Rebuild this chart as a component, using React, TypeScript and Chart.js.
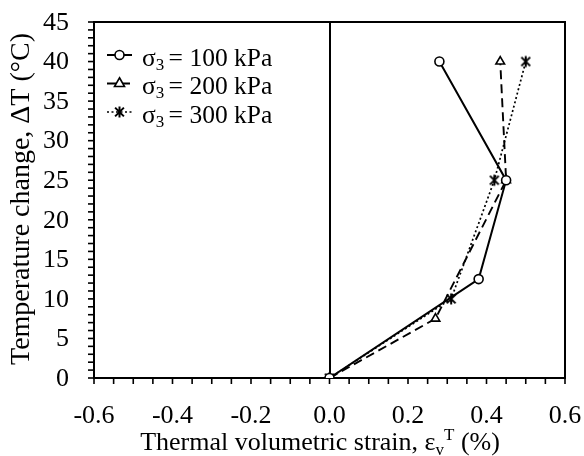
import React, { useEffect, useRef } from 'react';
import { Chart, registerables } from 'chart.js';

Chart.register(...registerables);

// ---- data ----
const strain100 = [0, 0.38, 0.45, 0.28];
const temp100 = [0, 12.5, 25, 40];
const strain200 = [0, 0.27, 0.45, 0.435];
const temp200 = [0, 7.5, 25, 40];
const strain300 = [0, 0.31, 0.42, 0.5];
const temp300 = [0, 10, 25, 40];

const pressures = ['100 kPa', '200 kPa', '300 kPa'];
const xTickValues = [-0.6, -0.4, -0.2, 0, 0.2, 0.4, 0.6];
const xTickLabels = ['-0.6', '-0.4', '-0.2', '0.0', '0.2', '0.4', '0.6'];
const yTickValues = [0, 5, 10, 15, 20, 25, 30, 35, 40, 45];
const yTickLabels = ['0', '5', '10', '15', '20', '25', '30', '35', '40', '45'];
const xMinorStep = 0.05;
const yMinorStep = 1;

const yTitle = 'Temperature change, ΔT (°C)';
const xTitleMain = 'Thermal volumetric strain, ε';
const xTitleSub = 'v';
const xTitleSup = 'T';
const xTitleEnd = ' (%)';

const FONT = "'Liberation Serif', 'Times New Roman', serif";
const TICK_FS = 26;
const XTITLE_FS = 26;
const YTITLE_FS = 28;
const LEG_FS = 25.5;

const toPts = (xs: number[], ys: number[]) => xs.map((v, i) => ({ x: v, y: ys[i] }));

function drawStar(ctx: CanvasRenderingContext2D, x: number, y: number, r: number) {
  const d = r * 0.8;
  ctx.beginPath();
  ctx.moveTo(x - d, y - d);
  ctx.lineTo(x + d, y + d);
  ctx.moveTo(x + d, y - d);
  ctx.lineTo(x - d, y + d);
  ctx.moveTo(x, y - r);
  ctx.lineTo(x, y + r);
  ctx.stroke();
}

function makeStarCanvas(): HTMLCanvasElement {
  const c = document.createElement('canvas');
  c.width = 14;
  c.height = 14;
  const g = c.getContext('2d')!;
  g.strokeStyle = '#000';
  g.lineWidth = 2;
  drawStar(g, 7, 7, 5.5);
  return c;
}

function drawPointShape(ctx: CanvasRenderingContext2D, style: any, r: number, x: number, y: number) {
  ctx.beginPath();
  if (style === 'circle') {
    ctx.arc(x, y, r, 0, Math.PI * 2);
    ctx.fill();
    ctx.stroke();
  } else if (style === 'triangle') {
    const rr = r;
    ctx.moveTo(x, y - rr * 1.15);
    ctx.lineTo(x + rr, y + rr * 0.6);
    ctx.lineTo(x - rr, y + rr * 0.6);
    ctx.closePath();
    ctx.fill();
    ctx.stroke();
  } else {
    ctx.lineWidth = 2;
    drawStar(ctx, x, y, 5.5);
  }
}

const framePlugin = {
  id: 'frame',
  beforeDatasetsDraw(chart: any) {
    const { ctx, chartArea: a, scales } = chart;
    const x = scales.x;
    const y = scales.y;
    ctx.save();
    ctx.strokeStyle = '#000';
    ctx.lineWidth = 2;
    ctx.strokeRect(a.left, a.top, a.right - a.left, a.bottom - a.top);
    const line = (x1: number, y1: number, x2: number, y2: number) => {
      ctx.beginPath();
      ctx.moveTo(x1, y1);
      ctx.lineTo(x2, y2);
      ctx.stroke();
    };
    const x0 = x.getPixelForValue(0);
    line(Math.round(x0), a.top, Math.round(x0), a.bottom);
    ctx.lineWidth = 1.6;
    const xmin = xTickValues[0];
    const xmax = xTickValues[xTickValues.length - 1];
    const nx = Math.round((xmax - xmin) / xMinorStep);
    for (let i = 0; i <= nx; i++) {
      const px = x.getPixelForValue(xmin + i * xMinorStep);
      line(px, a.bottom, px, a.bottom + 6);
    }
    const ymin = yTickValues[0];
    const ymax = yTickValues[yTickValues.length - 1];
    const ny = Math.round((ymax - ymin) / yMinorStep);
    for (let i = 0; i <= ny; i++) {
      const py = y.getPixelForValue(ymin + i * yMinorStep);
      line(a.left - 6, py, a.left, py);
    }

    // tick labels
    ctx.fillStyle = '#000';
    ctx.font = `${TICK_FS}px ${FONT}`;
    ctx.textAlign = 'center';
    ctx.textBaseline = 'alphabetic';
    xTickValues.forEach((v, i) => {
      ctx.fillText(xTickLabels[i], x.getPixelForValue(v), 423);
    });
    ctx.textAlign = 'right';
    ctx.textBaseline = 'middle';
    yTickValues.forEach((v, i) => {
      ctx.fillText(yTickLabels[i], a.left - 25, y.getPixelForValue(v) + 1);
    });

    // y title
    ctx.save();
    ctx.font = `${YTITLE_FS}px ${FONT}`;
    ctx.textAlign = 'center';
    ctx.textBaseline = 'alphabetic';
    ctx.translate(29, (a.top + a.bottom) / 2 - 1);
    ctx.rotate(-Math.PI / 2);
    ctx.fillText(yTitle, 0, 0);
    ctx.restore();

    // x title
    const big = `${XTITLE_FS}px ${FONT}`;
    const small = `${Math.round(XTITLE_FS * 0.65)}px ${FONT}`;
    ctx.textBaseline = 'alphabetic';
    ctx.textAlign = 'left';
    ctx.font = big;
    const w1 = ctx.measureText(xTitleMain).width;
    const w4 = ctx.measureText(xTitleEnd).width;
    ctx.font = small;
    const w2 = ctx.measureText(xTitleSub).width;
    const w3 = ctx.measureText(xTitleSup).width;
    const total = w1 + w2 + w3 + w4;
    let sx = 320 - total / 2;
    const by = 449.5;
    ctx.font = big;
    ctx.fillText(xTitleMain, sx, by);
    sx += w1;
    ctx.font = small;
    ctx.fillText(xTitleSub, sx, by + 5);
    sx += w2;
    ctx.fillText(xTitleSup, sx, by - 10);
    sx += w3;
    ctx.font = big;
    ctx.fillText(xTitleEnd, sx, by);
    ctx.restore();
  },
  afterDraw(chart: any) {
    const { ctx } = chart;
    ctx.save();
    const big = `${LEG_FS}px ${FONT}`;
    const small = `${Math.round(LEG_FS * 0.65)}px ${FONT}`;
    ctx.textBaseline = 'alphabetic';
    ctx.textAlign = 'left';
    chart.data.datasets.forEach((ds: any, i: number) => {
      const ly = 55 + i * 28.5;
      const x1 = 107;
      const x2 = 132;
      ctx.save();
      ctx.strokeStyle = '#000';
      ctx.lineWidth = ds.borderWidth;
      ctx.setLineDash(ds.borderDash || []);
      ctx.beginPath();
      ctx.moveTo(x1, ly);
      ctx.lineTo(x2, ly);
      ctx.stroke();
      ctx.restore();
      ctx.save();
      ctx.lineWidth = ds.pointBorderWidth;
      ctx.strokeStyle = '#000';
      ctx.fillStyle = '#fff';
      drawPointShape(ctx, ds.legendStyle, ds.pointRadius, (x1 + x2) / 2, ly);
      ctx.restore();
      ctx.fillStyle = '#000';
      ctx.font = big;
      ctx.fillText('σ', 142, ly + 10.5);
      const ws = ctx.measureText('σ').width;
      ctx.font = small;
      ctx.fillText('3', 142 + ws, ly + 14.5);
      const w3s = ctx.measureText('3').width;
      ctx.font = big;
      ctx.fillText(' = ' + pressures[i], 142 + ws + w3s - 2, ly + 10.5);
    });
    ctx.restore();
  },
};

export default function App() {
  const ref = useRef<HTMLCanvasElement | null>(null);
  useEffect(() => {
    if (!ref.current) return;
    const starImg = makeStarCanvas();
    const common = {
      borderColor: '#000',
      pointBorderColor: '#000',
      pointBackgroundColor: '#fff',
      pointBorderWidth: 1.6,
      showLine: true,
      fill: false,
      tension: 0,
    };
    const chart = new Chart(ref.current, {
      type: 'scatter',
      data: {
        datasets: [
          { ...common, label: 'σ3 = ' + pressures[0], data: toPts(strain100, temp100), borderWidth: 2, pointStyle: 'circle', legendStyle: 'circle', pointRadius: 4.5 },
          { ...common, label: 'σ3 = ' + pressures[1], data: toPts(strain200, temp200), borderWidth: 1.9, borderDash: [9, 5], pointStyle: 'triangle', legendStyle: 'triangle', pointRadius: 5 },
          { ...common, label: 'σ3 = ' + pressures[2], data: toPts(strain300, temp300), borderWidth: 1.7, borderDash: [2, 2.5], pointStyle: starImg, legendStyle: 'star', pointRadius: 5.5 },
        ],
      } as any,
      options: {
        animation: false,
        responsive: false,
        maintainAspectRatio: false,
        layout: { padding: { top: 22, right: 19, left: 0, bottom: 0 } },
        plugins: { legend: { display: false }, tooltip: { enabled: false } },
        scales: {
          x: {
            type: 'linear',
            min: -0.6,
            max: 0.6,
            afterFit: (s: any) => { s.height = 78; s.paddingLeft = 0; s.paddingRight = 0; },
            grid: { display: false, drawTicks: false },
            border: { display: false },
            ticks: { display: false },
          },
          y: {
            type: 'linear',
            min: 0,
            max: 45,
            afterFit: (s: any) => { s.width = 94; s.paddingTop = 0; s.paddingBottom = 0; },
            grid: { display: false, drawTicks: false },
            border: { display: false },
            ticks: { display: false },
          },
        },
      } as any,
      plugins: [framePlugin],
    });
    return () => chart.destroy();
  }, []);
  return (
    <div style={{ position: 'absolute', left: 0, top: 0, width: 584, height: 456, background: '#fff' }}>
      <canvas ref={ref} width={584} height={456} />
    </div>
  );
}
